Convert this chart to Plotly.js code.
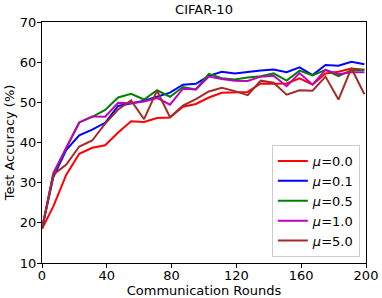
<!DOCTYPE html>
<html>
<head>
<meta charset="utf-8">
<script src="https://cdn.plot.ly/plotly-3.0.1.min.js"></script>
<style>html,body{margin:0;padding:0;background:#fff;}#chart{width:382px;height:298px;}</style>
</head>
<body>
<div id="chart"></div>
<script>
var rounds = [0,7,15,23,31,39,47,55,63,71,79,87,95,103,111,119,127,135,143,151,159,167,175,183,191,199];
var mu00 = [18.5,24.1,32.0,37.2,38.7,39.3,42.5,45.3,45.1,46.1,46.2,48.9,49.6,51.2,52.4,52.5,52.6,54.7,54.6,54.7,56.0,54.4,57.2,57.6,58.4,58.1];
var mu01 = [18.5,31.4,38.2,41.8,43.2,44.9,49.1,49.8,50.4,51.4,52.4,54.4,54.6,56.6,57.6,57.2,57.6,57.9,58.2,57.5,58.7,56.8,59.3,59.1,60.1,59.5];
var mu05 = [18.5,32.0,38.7,45.0,46.4,48.1,51.2,52.1,50.7,53.0,51.4,53.8,53.2,57.1,56.0,55.7,56.2,56.5,57.2,55.4,57.9,56.7,58.1,56.5,58.0,58.1];
var mu10 = [18.5,32.4,38.7,45.0,46.5,46.4,49.9,49.8,50.2,51.1,49.4,53.4,53.2,56.4,55.8,55.4,55.3,56.4,56.6,54.0,57.3,54.4,58.1,57.0,57.5,57.5];
var mu50 = [18.5,32.0,34.5,39.0,40.5,44.7,48.2,50.5,45.8,52.9,46.3,49.2,50.8,52.7,53.6,52.8,51.8,55.4,54.9,51.9,53.0,52.9,56.4,50.7,58.5,52.0];
var seriesNames = ['<i>μ</i>=0.0','<i>μ</i>=0.1','<i>μ</i>=0.5','<i>μ</i>=1.0','<i>μ</i>=5.0'];
var seriesColors = ['#ff0000','#0000ff','#008000','#bf00bf','#a52a2a'];
var xTicks = [0,40,80,120,160,200];
var yTicks = [10,20,30,40,50,60,70];

var allY = [mu00, mu01, mu05, mu10, mu50];
var traces = allY.map(function(y, i){
  return {x: rounds, y: y, type: 'scatter', mode: 'lines', name: seriesNames[i],
          line: {color: seriesColors[i], width: 2}};
});
var font = {family: 'DejaVu Sans', size: 13, color: '#000'};
var layout = {
  width: 382, height: 298,
  margin: {l: 42, r: 16, t: 21.7, b: 34.7, pad: 0},
  paper_bgcolor: '#fff', plot_bgcolor: '#fff',
  font: font,
  showlegend: true,
  title: {text: 'CIFAR-10', font: {family: 'DejaVu Sans', size: 13, color: '#000'}, x: 0.5, xref: 'paper', xanchor: 'center', y: 1, yref: 'container', yanchor: 'top', pad: {t: 5}},
  xaxis: {
    range: [0, 200], tickvals: xTicks, ticktext: xTicks.map(String),
    showgrid: false, zeroline: false, showline: true, linecolor: '#000', linewidth: 1, mirror: true,
    ticks: 'outside', ticklen: 4, tickcolor: '#000', tickwidth: 1, ticklabelstandoff: -4,
    tickfont: font,
    title: {text: 'Communication Rounds', font: font, standoff: 0}
  },
  yaxis: {
    range: [10, 70], tickvals: yTicks, ticktext: yTicks.map(String),
    showgrid: false, zeroline: false, showline: true, linecolor: '#000', linewidth: 1, mirror: true,
    ticks: 'outside', ticklen: 4, tickcolor: '#000', tickwidth: 1, ticklabelstandoff: -2,
    tickfont: font,
    title: {text: 'Test Accuracy (%)', font: font, standoff: 2}
  },
  legend: {
    x: 0.981, y: 0.025, xanchor: 'right', yanchor: 'bottom',
    bgcolor: '#fff', bordercolor: '#cccccc', borderwidth: 1,
    font: {family: 'DejaVu Sans', size: 13, color: '#000'},
    itemwidth: 30, tracegroupgap: 0
  }
};
Plotly.newPlot('chart', traces, layout, {staticPlot: true, displayModeBar: false});
</script>
</body>
</html>
